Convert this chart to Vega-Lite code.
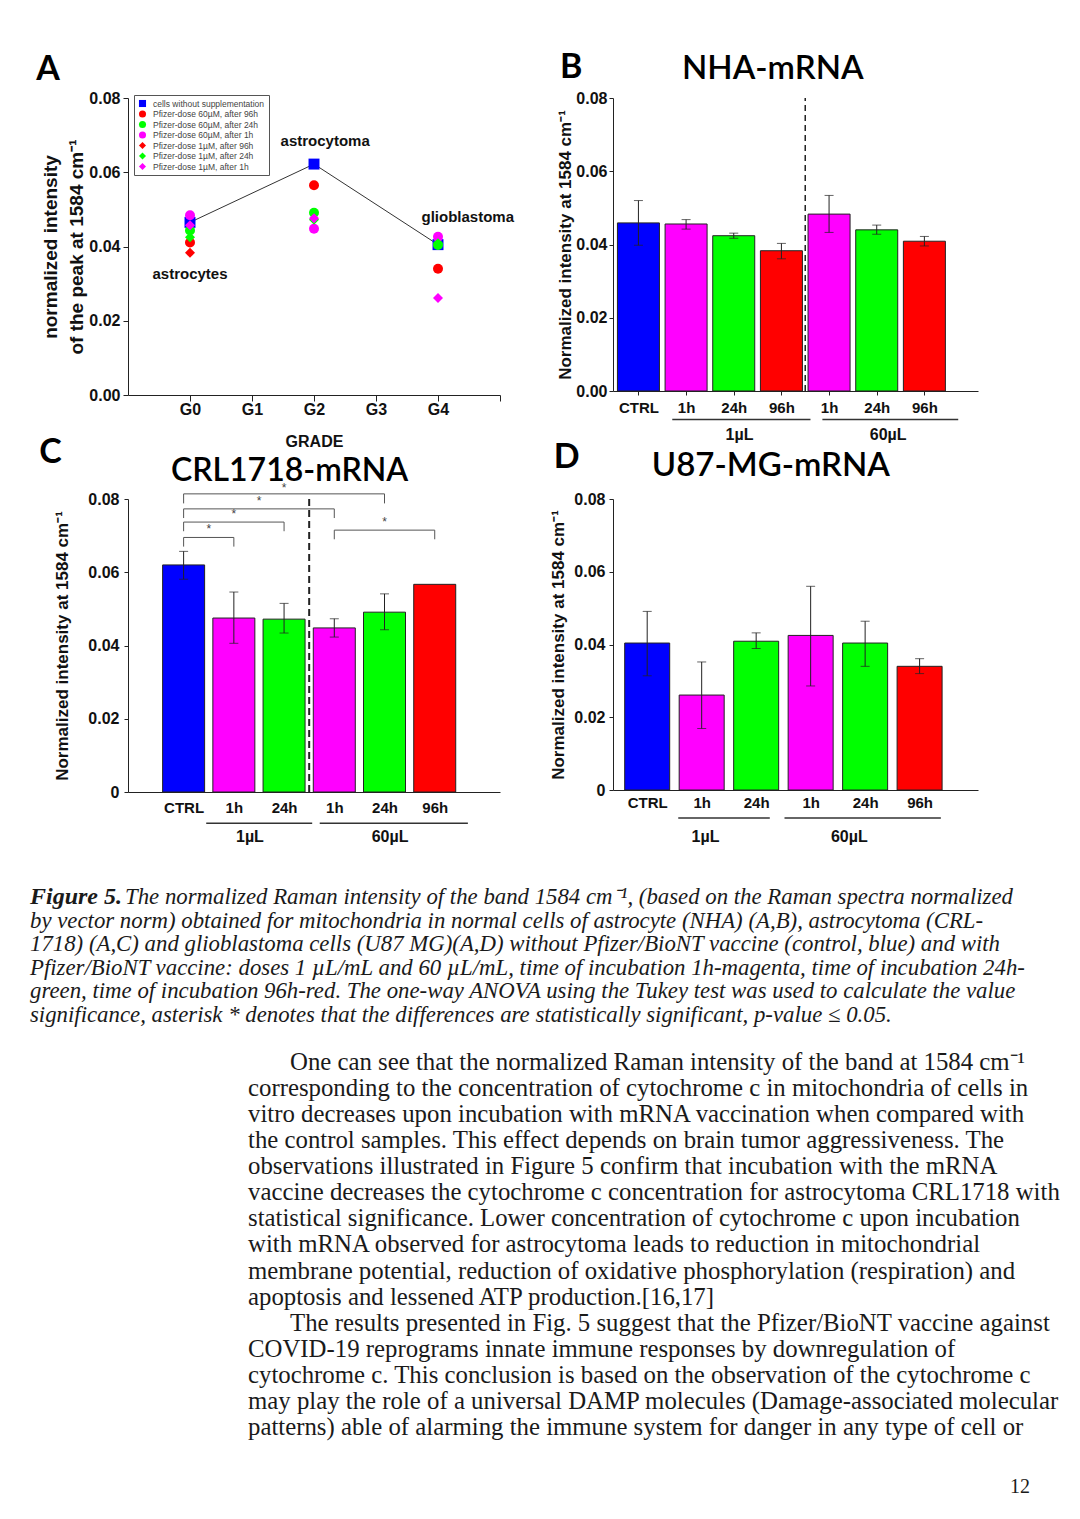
{
  "$schema": "https://vega.github.io/schema/vega-lite/v6.json",
  "background": "white",
  "padding": {"left": 30, "top": 50, "right": 0, "bottom": 0},
  "config": {
    "view": {"stroke": null},
    "font": "Liberation Sans",
    "axis": {"grid": false, "labelFont": "Liberation Sans", "labelFontWeight": "bold", "titleFont": "Liberation Sans", "titleFontWeight": "bold", "labelColor": "#111", "titleColor": "#111", "domainColor": "#222", "tickColor": "#222", "domainWidth": 1, "tickWidth": 1}
  },
  "datasets": {
    "pointsA": [
      {"series": "cells without supplementation", "grade": 0, "v": 0.0465},
      {"series": "cells without supplementation", "grade": 2, "v": 0.0622},
      {"series": "cells without supplementation", "grade": 4, "v": 0.0405},
      {"series": "Pfizer-dose 60µM, after 96h", "grade": 0, "v": 0.0411},
      {"series": "Pfizer-dose 60µM, after 96h", "grade": 2, "v": 0.0565},
      {"series": "Pfizer-dose 60µM, after 96h", "grade": 4, "v": 0.0340},
      {"series": "Pfizer-dose 60µM, after 24h", "grade": 0, "v": 0.0443},
      {"series": "Pfizer-dose 60µM, after 24h", "grade": 2, "v": 0.0491},
      {"series": "Pfizer-dose 60µM, after 24h", "grade": 4, "v": 0.0404},
      {"series": "Pfizer-dose 60µM, after 1h", "grade": 0, "v": 0.0484},
      {"series": "Pfizer-dose 60µM, after 1h", "grade": 2, "v": 0.0448},
      {"series": "Pfizer-dose 60µM, after 1h", "grade": 4, "v": 0.0426},
      {"series": "Pfizer-dose 1µM, after 96h", "grade": 0, "v": 0.0383},
      {"series": "Pfizer-dose 1µM, after 24h", "grade": 0, "v": 0.0425},
      {"series": "Pfizer-dose 1µM, after 24h", "grade": 2, "v": 0.0472},
      {"series": "Pfizer-dose 1µM, after 24h", "grade": 4, "v": 0.0409},
      {"series": "Pfizer-dose 1µM, after 1h", "grade": 0, "v": 0.0457},
      {"series": "Pfizer-dose 1µM, after 1h", "grade": 2, "v": 0.0476},
      {"series": "Pfizer-dose 1µM, after 1h", "grade": 4, "v": 0.0261}
    ],
    "annA": [
      {"text": "astrocytes", "grade": 0, "v": 0.0326},
      {"text": "astrocytoma", "grade": 2.18, "v": 0.0684},
      {"text": "glioblastoma", "grade": 4.48, "v": 0.048}
    ],
    "bars": [
      {"panel": "B", "pos": 0, "time": "ctrl", "v": 0.0459, "lo": 0.0398, "hi": 0.0520},
      {"panel": "B", "pos": 1, "time": "1h", "v": 0.0456, "lo": 0.0442, "hi": 0.0468},
      {"panel": "B", "pos": 2, "time": "24h", "v": 0.0424, "lo": 0.0417, "hi": 0.0431},
      {"panel": "B", "pos": 3, "time": "96h", "v": 0.0383, "lo": 0.0361, "hi": 0.0403},
      {"panel": "B", "pos": 4, "time": "1h", "v": 0.0483, "lo": 0.0433, "hi": 0.0534},
      {"panel": "B", "pos": 5, "time": "24h", "v": 0.0440, "lo": 0.0428, "hi": 0.0453},
      {"panel": "B", "pos": 6, "time": "96h", "v": 0.0409, "lo": 0.0396, "hi": 0.0422},
      {"panel": "C", "pos": 0, "time": "ctrl", "v": 0.0620, "lo": 0.0581, "hi": 0.0657},
      {"panel": "C", "pos": 1, "time": "1h", "v": 0.0475, "lo": 0.0406, "hi": 0.0546},
      {"panel": "C", "pos": 2, "time": "24h", "v": 0.0472, "lo": 0.0434, "hi": 0.0515},
      {"panel": "C", "pos": 3, "time": "1h", "v": 0.0448, "lo": 0.0423, "hi": 0.0473},
      {"panel": "C", "pos": 4, "time": "24h", "v": 0.0491, "lo": 0.0443, "hi": 0.0541},
      {"panel": "C", "pos": 5, "time": "96h", "v": 0.0567, "lo": null, "hi": null},
      {"panel": "D", "pos": 0, "time": "ctrl", "v": 0.0404, "lo": 0.0314, "hi": 0.0491},
      {"panel": "D", "pos": 1, "time": "1h", "v": 0.0261, "lo": 0.0169, "hi": 0.0352},
      {"panel": "D", "pos": 2, "time": "24h", "v": 0.0409, "lo": 0.0389, "hi": 0.0432},
      {"panel": "D", "pos": 3, "time": "1h", "v": 0.0425, "lo": 0.0286, "hi": 0.0560},
      {"panel": "D", "pos": 4, "time": "24h", "v": 0.0404, "lo": 0.0340, "hi": 0.0464},
      {"panel": "D", "pos": 5, "time": "96h", "v": 0.0340, "lo": 0.0320, "hi": 0.0361}
    ],
    "groups": [
      {"panel": "B", "from": 0.71, "to": 3.61, "mid": 2.12, "label": "1µL"},
      {"panel": "B", "from": 3.86, "to": 6.71, "mid": 5.24, "label": "60µL"},
      {"panel": "C", "from": 0.45, "to": 2.56, "mid": 1.32, "label": "1µL"},
      {"panel": "C", "from": 2.71, "to": 5.66, "mid": 4.11, "label": "60µL"},
      {"panel": "D", "from": 0.57, "to": 2.25, "mid": 1.07, "label": "1µL"},
      {"panel": "D", "from": 2.52, "to": 5.39, "mid": 3.71, "label": "60µL"}
    ],
    "brackets": [
      {"a": 0, "b": 4, "mid": 2, "y": 0.0814, "ylow": 0.0788, "sy": 0.0831},
      {"a": 0, "b": 3, "mid": 1.5, "y": 0.0773, "ylow": 0.0748, "sy": 0.0795},
      {"a": 0, "b": 2, "mid": 1, "y": 0.0737, "ylow": 0.0712, "sy": 0.0760},
      {"a": 0, "b": 1, "mid": 0.5, "y": 0.0695, "ylow": 0.0670, "sy": 0.0719},
      {"a": 3, "b": 5, "mid": 4, "y": 0.0715, "ylow": 0.0690, "sy": 0.0737}
    ],
    "caption": [
      {"line": 2, "text": "by vector norm) obtained for mitochondria in normal cells of astrocyte (NHA) (A,B), astrocytoma (CRL-"},
      {"line": 3, "text": "1718) (A,C) and glioblastoma cells (U87 MG)(A,D) without Pfizer/BioNT vaccine (control, blue) and with"},
      {"line": 4, "text": "Pfizer/BioNT vaccine: doses 1 µL/mL and 60 µL/mL, time of incubation 1h-magenta, time of incubation 24h-"},
      {"line": 5, "text": "green, time of incubation 96h-red. The one-way ANOVA using the Tukey test was used to calculate the value"},
      {"line": 6, "text": "significance, asterisk * denotes that the differences are statistically significant, p-value ≤ 0.05."}
    ],
    "body": [
      {"line": 1, "para": true, "text": "One can see that the normalized Raman intensity of the band at 1584 cm⁻¹"},
      {"line": 2, "para": false, "text": "corresponding to the concentration of cytochrome c in mitochondria of cells in"},
      {"line": 3, "para": false, "text": "vitro decreases upon incubation with mRNA vaccination when compared with"},
      {"line": 4, "para": false, "text": "the control samples.  This effect depends on brain tumor aggressiveness. The"},
      {"line": 5, "para": false, "text": "observations illustrated in Figure 5 confirm that incubation with the mRNA"},
      {"line": 6, "para": false, "text": "vaccine decreases the cytochrome c concentration for astrocytoma CRL1718 with"},
      {"line": 7, "para": false, "text": "statistical significance. Lower concentration of cytochrome c upon incubation"},
      {"line": 8, "para": false, "text": "with mRNA observed for astrocytoma leads to reduction in mitochondrial"},
      {"line": 9, "para": false, "text": "membrane potential, reduction of oxidative phosphorylation (respiration) and"},
      {"line": 10, "para": false, "text": "apoptosis and lessened ATP production.[16,17]"},
      {"line": 11, "para": true, "text": "The results presented in Fig. 5 suggest that the Pfizer/BioNT vaccine against"},
      {"line": 12, "para": false, "text": "COVID-19 reprograms innate immune responses by downregulation of"},
      {"line": 13, "para": false, "text": "cytochrome c. This conclusion is based on the observation of the cytochrome c"},
      {"line": 14, "para": false, "text": "may play the role of a universal DAMP molecules (Damage-associated molecular"},
      {"line": 15, "para": false, "text": "patterns)  able of alarming the immune system for danger in any type of cell or"}
    ]
  },
  "columns": 2,
  "bounds": "flush",
  "spacing": {"row": 104, "column": 113},
  "resolve": {"scale": {"x": "independent", "y": "independent", "color": "independent", "shape": "independent", "size": "independent"}, "axis": {"x": "independent", "y": "independent"}, "legend": {"color": "independent", "shape": "independent", "size": "independent"}},
  "concat": [
    {
      "width": 372,
      "height": 297,
      "layer": [
        {
          "data": {"name": "pointsA"},
          "transform": [{"filter": "datum.series === 'cells without supplementation'"}],
          "mark": {"type": "line", "color": "#333", "strokeWidth": 1},
          "encoding": {
            "x": {"field": "grade", "type": "quantitative", "scale": {"domain": [-1, 5], "nice": false, "zero": false},
              "axis": {"values": [0, 1, 2, 3, 4, 5], "labelExpr": "datum.value < 5 ? 'G' + datum.value : ''", "title": "GRADE", "titleFontSize": 16, "titlePadding": 16, "labelFontSize": 16, "tickSize": 6, "labelPadding": 0}},
            "y": {"field": "v", "type": "quantitative", "scale": {"domain": [0, 0.08], "nice": false, "zero": false},
              "axis": {"values": [0, 0.01, 0.02, 0.03, 0.04, 0.05, 0.06, 0.07, 0.08], "labelExpr": "round(datum.value*100) % 2 == 0 ? format(datum.value, '.2f') : ''", "tickSize": 5, "title": ["normalized intensity", "of the peak at 1584 cm⁻¹"], "titleFontSize": 19, "titleLineHeight": 26, "labelFontSize": 16, "labelPadding": 3, "titlePadding": 2}}
          }
        },
        {
          "data": {"name": "pointsA"},
          "mark": {"type": "point", "filled": true, "opacity": 1},
          "encoding": {
            "x": {"field": "grade", "type": "quantitative", "scale": {"domain": [-1, 5], "nice": false, "zero": false}},
            "y": {"field": "v", "type": "quantitative", "scale": {"domain": [0, 0.08], "nice": false, "zero": false}},
            "color": {"field": "series", "type": "nominal",
              "scale": {"domain": ["cells without supplementation", "Pfizer-dose 60µM, after 96h", "Pfizer-dose 60µM, after 24h", "Pfizer-dose 60µM, after 1h", "Pfizer-dose 1µM, after 96h", "Pfizer-dose 1µM, after 24h", "Pfizer-dose 1µM, after 1h"], "range": ["#0000ff", "#ff0000", "#00ff00", "#ff00ff", "#ff0000", "#00ff00", "#ff00ff"]},
              "legend": {"orient": "none", "legendX": 6, "legendY": -3, "title": null, "labelFontSize": 8.5, "labelFont": "Liberation Sans", "labelColor": "#444", "symbolSize": 50, "rowPadding": 1.5, "padding": 4, "strokeColor": "#555", "fillColor": "white", "labelLimit": 200, "labelOffset": 6}},
            "shape": {"field": "series", "type": "nominal",
              "scale": {"domain": ["cells without supplementation", "Pfizer-dose 60µM, after 96h", "Pfizer-dose 60µM, after 24h", "Pfizer-dose 60µM, after 1h", "Pfizer-dose 1µM, after 96h", "Pfizer-dose 1µM, after 24h", "Pfizer-dose 1µM, after 1h"], "range": ["square", "circle", "circle", "circle", "diamond", "diamond", "diamond"]},
              "legend": {"orient": "none", "legendX": 6, "legendY": -3, "title": null, "labelFontSize": 8.5, "labelFont": "Liberation Sans", "labelColor": "#444", "symbolSize": 50, "rowPadding": 1.5, "padding": 4, "strokeColor": "#555", "fillColor": "white", "labelLimit": 200, "labelOffset": 6}},
            "size": {"condition": {"test": "datum.series === 'cells without supplementation'", "value": 120}, "value": 100}
          }
        },
        {
          "data": {"name": "annA"},
          "mark": {"type": "text", "font": "Liberation Sans", "fontWeight": "bold", "fontSize": 15, "align": "center", "baseline": "middle", "color": "#111"},
          "encoding": {
            "x": {"field": "grade", "type": "quantitative", "scale": {"domain": [-1, 5], "nice": false, "zero": false}},
            "y": {"field": "v", "type": "quantitative", "scale": {"domain": [0, 0.08], "nice": false, "zero": false}},
            "text": {"field": "text"}
          }
        },
        {
          "data": {"values": [{"letter": "A"}]},
          "mark": {"type": "text", "font": "Lato", "fontWeight": "bold", "fontSize": 34, "align": "center", "baseline": "alphabetic", "color": "#000"},
          "encoding": {
            "x": {"datum": -2.29, "type": "quantitative", "scale": {"domain": [-1, 5], "nice": false, "zero": false}},
            "y": {"datum": 0.0848, "type": "quantitative", "scale": {"domain": [0, 0.08], "nice": false, "zero": false}},
            "text": {"field": "letter"}
          }
        }
      ]
    },
    {
      "width": 365,
      "height": 293,
      "layer": [
        {
          "data": {"name": "bars"},
          "transform": [{"filter": "datum.panel === 'B'"}],
          "mark": {"type": "bar", "width": 42, "stroke": "#222", "strokeWidth": 1},
          "encoding": {
            "x": {"field": "pos", "type": "quantitative", "scale": {"domain": [-0.4286, 7.02], "nice": false, "zero": false},
              "axis": {"values": [0, 1, 2, 3, 4, 5, 6], "labelExpr": "['CTRL','1h','24h','96h','1h','24h','96h'][datum.value]", "title": null, "tickSize": 4, "labelFontSize": 15, "labelPadding": 5}},
            "y": {"field": "v", "type": "quantitative", "stack": null, "scale": {"domain": [0, 0.08], "nice": false, "zero": false},
              "axis": {"values": [0, 0.01, 0.02, 0.03, 0.04, 0.05, 0.06, 0.07, 0.08], "labelExpr": "round(datum.value*100) % 2 == 0 ? format(datum.value, '.2f') : ''", "tickSize": 4, "title": "Normalized intensity at 1584 cm⁻¹", "titleFontSize": 17, "labelFontSize": 16, "labelPadding": 2, "titlePadding": 1}},
            "color": {"field": "time", "type": "nominal", "scale": {"domain": ["ctrl", "1h", "24h", "96h"], "range": ["#0000ff", "#ff00ff", "#00ff00", "#ff0000"]}, "legend": null}
          }
        },
        {
          "data": {"name": "bars"},
          "transform": [{"filter": "datum.panel === 'B' && isValid(datum.lo)"}],
          "mark": {"type": "rule", "color": "#222", "strokeWidth": 1},
          "encoding": {
            "x": {"field": "pos", "type": "quantitative", "scale": {"domain": [-0.4286, 7.02], "nice": false, "zero": false}},
            "y": {"field": "lo", "type": "quantitative", "scale": {"domain": [0, 0.08], "nice": false, "zero": false}},
            "y2": {"field": "hi"}
          }
        },
        {
          "data": {"name": "bars"},
          "transform": [{"filter": "datum.panel === 'B' && isValid(datum.lo)"}, {"fold": ["lo", "hi"], "as": ["k", "e"]}],
          "mark": {"type": "tick", "orient": "horizontal", "size": 9, "thickness": 1, "color": "#222"},
          "encoding": {
            "x": {"field": "pos", "type": "quantitative", "scale": {"domain": [-0.4286, 7.02], "nice": false, "zero": false}},
            "y": {"field": "e", "type": "quantitative", "scale": {"domain": [0, 0.08], "nice": false, "zero": false}}
          }
        },
        {
          "data": {"values": [{}]},
          "mark": {"type": "rule", "color": "#222", "strokeWidth": 1.5, "strokeDash": [6, 4]},
          "encoding": {
            "x": {"datum": 3.5, "type": "quantitative", "scale": {"domain": [-0.4286, 7.02], "nice": false, "zero": false}},
            "y": {"datum": 0, "type": "quantitative", "scale": {"domain": [0, 0.08], "nice": false, "zero": false}},
            "y2": {"datum": 0.08}
          }
        },
        {
          "data": {"name": "groups"},
          "transform": [{"filter": "datum.panel === 'B'"}],
          "mark": {"type": "rule", "color": "#333", "strokeWidth": 1.5},
          "encoding": {
            "x": {"field": "from", "type": "quantitative", "scale": {"domain": [-0.4286, 7.02], "nice": false, "zero": false}},
            "x2": {"field": "to"},
            "y": {"datum": -0.0078, "type": "quantitative", "scale": {"domain": [0, 0.08], "nice": false, "zero": false}}
          }
        },
        {
          "data": {"name": "groups"},
          "transform": [{"filter": "datum.panel === 'B'"}],
          "mark": {"type": "text", "font": "Liberation Sans", "fontWeight": "bold", "fontSize": 16, "align": "center", "baseline": "middle", "color": "#111"},
          "encoding": {
            "x": {"field": "mid", "type": "quantitative", "scale": {"domain": [-0.4286, 7.02], "nice": false, "zero": false}},
            "y": {"datum": -0.0121, "type": "quantitative", "scale": {"domain": [0, 0.08], "nice": false, "zero": false}},
            "text": {"field": "label"}
          }
        },
        {
          "data": {"values": [{"letter": "B", "title": "NHA-mRNA"}]},
          "layer": [
            {
              "mark": {"type": "text", "font": "Lato", "fontWeight": "bold", "fontSize": 34, "align": "center", "baseline": "alphabetic", "color": "#000"},
              "encoding": {
                "x": {"datum": -1.41, "type": "quantitative", "scale": {"domain": [-0.4286, 7.02], "nice": false, "zero": false}},
                "y": {"datum": 0.0855, "type": "quantitative", "scale": {"domain": [0, 0.08], "nice": false, "zero": false}},
                "text": {"field": "letter"}
              }
            },
            {
              "mark": {"type": "text", "font": "Lato", "fontWeight": 600, "fontSize": 33, "align": "center", "baseline": "alphabetic", "color": "#000"},
              "encoding": {
                "x": {"datum": 2.82, "type": "quantitative", "scale": {"domain": [-0.4286, 7.02], "nice": false, "zero": false}},
                "y": {"datum": 0.0852, "type": "quantitative", "scale": {"domain": [0, 0.08], "nice": false, "zero": false}},
                "text": {"field": "title"}
              }
            }
          ]
        }
      ]
    },
    {
      "width": 372,
      "height": 293,
      "layer": [
        {
          "data": {"name": "bars"},
          "transform": [{"filter": "datum.panel === 'C'"}],
          "mark": {"type": "bar", "width": 42, "stroke": "#222", "strokeWidth": 1},
          "encoding": {
            "x": {"field": "pos", "type": "quantitative", "scale": {"domain": [-1.008, 6.2], "nice": false, "zero": false},
              "axis": {"values": [0, 1, 2, 3, 4, 5], "labelExpr": "['CTRL','1h','24h','1h','24h','96h'][datum.value]", "title": null, "ticks": false, "labelFontSize": 15, "labelPadding": 8}},
            "y": {"field": "v", "type": "quantitative", "stack": null, "scale": {"domain": [0, 0.08], "nice": false, "zero": false},
              "axis": {"values": [0, 0.01, 0.02, 0.03, 0.04, 0.05, 0.06, 0.07, 0.08], "labelExpr": "round(datum.value*100) % 2 == 0 ? (datum.value == 0 ? '0' : format(datum.value, '.2f')) : ''", "tickSize": 4, "title": "Normalized intensity at 1584 cm⁻¹", "titleFontSize": 17, "labelFontSize": 16, "labelPadding": 5, "titlePadding": 16}},
            "color": {"field": "time", "type": "nominal", "scale": {"domain": ["ctrl", "1h", "24h", "96h"], "range": ["#0000ff", "#ff00ff", "#00ff00", "#ff0000"]}, "legend": null}
          }
        },
        {
          "data": {"name": "bars"},
          "transform": [{"filter": "datum.panel === 'C' && isValid(datum.lo)"}],
          "mark": {"type": "rule", "color": "#222", "strokeWidth": 1},
          "encoding": {
            "x": {"field": "pos", "type": "quantitative", "scale": {"domain": [-1.008, 6.2], "nice": false, "zero": false}},
            "y": {"field": "lo", "type": "quantitative", "scale": {"domain": [0, 0.08], "nice": false, "zero": false}},
            "y2": {"field": "hi"}
          }
        },
        {
          "data": {"name": "bars"},
          "transform": [{"filter": "datum.panel === 'C' && isValid(datum.lo)"}, {"fold": ["lo", "hi"], "as": ["k", "e"]}],
          "mark": {"type": "tick", "orient": "horizontal", "size": 9, "thickness": 1, "color": "#222"},
          "encoding": {
            "x": {"field": "pos", "type": "quantitative", "scale": {"domain": [-1.008, 6.2], "nice": false, "zero": false}},
            "y": {"field": "e", "type": "quantitative", "scale": {"domain": [0, 0.08], "nice": false, "zero": false}}
          }
        },
        {
          "data": {"values": [{}]},
          "mark": {"type": "rule", "color": "#222", "strokeWidth": 2, "strokeDash": [7, 4]},
          "encoding": {
            "x": {"datum": 2.5, "type": "quantitative", "scale": {"domain": [-1.008, 6.2], "nice": false, "zero": false}},
            "y": {"datum": 0, "type": "quantitative", "scale": {"domain": [0, 0.08], "nice": false, "zero": false}},
            "y2": {"datum": 0.0811}
          }
        },
        {
          "data": {"name": "brackets"},
          "mark": {"type": "rule", "color": "#555", "strokeWidth": 1},
          "encoding": {
            "x": {"field": "a", "type": "quantitative", "scale": {"domain": [-1.008, 6.2], "nice": false, "zero": false}},
            "x2": {"field": "b"},
            "y": {"field": "y", "type": "quantitative", "scale": {"domain": [0, 0.08], "nice": false, "zero": false}}
          }
        },
        {
          "data": {"name": "brackets"},
          "mark": {"type": "rule", "color": "#555", "strokeWidth": 1},
          "encoding": {
            "x": {"field": "a", "type": "quantitative", "scale": {"domain": [-1.008, 6.2], "nice": false, "zero": false}},
            "y": {"field": "y", "type": "quantitative", "scale": {"domain": [0, 0.08], "nice": false, "zero": false}},
            "y2": {"field": "ylow"}
          }
        },
        {
          "data": {"name": "brackets"},
          "mark": {"type": "rule", "color": "#555", "strokeWidth": 1},
          "encoding": {
            "x": {"field": "b", "type": "quantitative", "scale": {"domain": [-1.008, 6.2], "nice": false, "zero": false}},
            "y": {"field": "y", "type": "quantitative", "scale": {"domain": [0, 0.08], "nice": false, "zero": false}},
            "y2": {"field": "ylow"}
          }
        },
        {
          "data": {"name": "brackets"},
          "mark": {"type": "text", "font": "Liberation Sans", "fontSize": 12, "align": "center", "baseline": "middle", "color": "#444"},
          "encoding": {
            "x": {"field": "mid", "type": "quantitative", "scale": {"domain": [-1.008, 6.2], "nice": false, "zero": false}},
            "y": {"field": "sy", "type": "quantitative", "scale": {"domain": [0, 0.08], "nice": false, "zero": false}},
            "text": {"value": "*"}
          }
        },
        {
          "data": {"name": "groups"},
          "transform": [{"filter": "datum.panel === 'C'"}],
          "mark": {"type": "rule", "color": "#333", "strokeWidth": 1.5},
          "encoding": {
            "x": {"field": "from", "type": "quantitative", "scale": {"domain": [-1.008, 6.2], "nice": false, "zero": false}},
            "x2": {"field": "to"},
            "y": {"datum": -0.00855, "type": "quantitative", "scale": {"domain": [0, 0.08], "nice": false, "zero": false}}
          }
        },
        {
          "data": {"name": "groups"},
          "transform": [{"filter": "datum.panel === 'C'"}],
          "mark": {"type": "text", "font": "Liberation Sans", "fontWeight": "bold", "fontSize": 16, "align": "center", "baseline": "middle", "color": "#111"},
          "encoding": {
            "x": {"field": "mid", "type": "quantitative", "scale": {"domain": [-1.008, 6.2], "nice": false, "zero": false}},
            "y": {"datum": -0.0124, "type": "quantitative", "scale": {"domain": [0, 0.08], "nice": false, "zero": false}},
            "text": {"field": "label"}
          }
        },
        {
          "data": {"values": [{"letter": "C", "title": "CRL1718-mRNA"}]},
          "layer": [
            {
              "mark": {"type": "text", "font": "Lato", "fontWeight": "bold", "fontSize": 34, "align": "center", "baseline": "alphabetic", "color": "#000"},
              "encoding": {
                "x": {"datum": -2.65, "type": "quantitative", "scale": {"domain": [-1.008, 6.2], "nice": false, "zero": false}},
                "y": {"datum": 0.0897, "type": "quantitative", "scale": {"domain": [0, 0.08], "nice": false, "zero": false}},
                "text": {"field": "letter"}
              }
            },
            {
              "mark": {"type": "text", "font": "Lato", "fontWeight": 600, "fontSize": 32, "align": "center", "baseline": "alphabetic", "color": "#000"},
              "encoding": {
                "x": {"datum": 2.11, "type": "quantitative", "scale": {"domain": [-1.008, 6.2], "nice": false, "zero": false}},
                "y": {"datum": 0.0849, "type": "quantitative", "scale": {"domain": [0, 0.08], "nice": false, "zero": false}},
                "text": {"field": "title"}
              }
            }
          ]
        }
      ]
    },
    {
      "width": 365,
      "height": 291,
      "layer": [
        {
          "data": {"name": "bars"},
          "transform": [{"filter": "datum.panel === 'D'"}],
          "mark": {"type": "bar", "width": 45, "stroke": "#222", "strokeWidth": 1},
          "encoding": {
            "x": {"field": "pos", "type": "quantitative", "scale": {"domain": [-0.536, 5.98], "nice": false, "zero": false},
              "axis": {"values": [0, 1, 2, 3, 4, 5], "labelExpr": "['CTRL','1h','24h','1h','24h','96h'][datum.value]", "title": null, "ticks": false, "labelFontSize": 15, "labelPadding": 5}},
            "y": {"field": "v", "type": "quantitative", "stack": null, "scale": {"domain": [0, 0.08], "nice": false, "zero": false},
              "axis": {"values": [0, 0.01, 0.02, 0.03, 0.04, 0.05, 0.06, 0.07, 0.08], "labelExpr": "round(datum.value*100) % 2 == 0 ? (datum.value == 0 ? '0' : format(datum.value, '.2f')) : ''", "tickSize": 4, "title": "Normalized intensity at 1584 cm⁻¹", "titleFontSize": 17, "labelFontSize": 16, "labelPadding": 4, "titlePadding": 6}},
            "color": {"field": "time", "type": "nominal", "scale": {"domain": ["ctrl", "1h", "24h", "96h"], "range": ["#0000ff", "#ff00ff", "#00ff00", "#ff0000"]}, "legend": null}
          }
        },
        {
          "data": {"name": "bars"},
          "transform": [{"filter": "datum.panel === 'D' && isValid(datum.lo)"}],
          "mark": {"type": "rule", "color": "#222", "strokeWidth": 1},
          "encoding": {
            "x": {"field": "pos", "type": "quantitative", "scale": {"domain": [-0.536, 5.98], "nice": false, "zero": false}},
            "y": {"field": "lo", "type": "quantitative", "scale": {"domain": [0, 0.08], "nice": false, "zero": false}},
            "y2": {"field": "hi"}
          }
        },
        {
          "data": {"name": "bars"},
          "transform": [{"filter": "datum.panel === 'D' && isValid(datum.lo)"}, {"fold": ["lo", "hi"], "as": ["k", "e"]}],
          "mark": {"type": "tick", "orient": "horizontal", "size": 9, "thickness": 1, "color": "#222"},
          "encoding": {
            "x": {"field": "pos", "type": "quantitative", "scale": {"domain": [-0.536, 5.98], "nice": false, "zero": false}},
            "y": {"field": "e", "type": "quantitative", "scale": {"domain": [0, 0.08], "nice": false, "zero": false}}
          }
        },
        {
          "data": {"name": "groups"},
          "transform": [{"filter": "datum.panel === 'D'"}],
          "mark": {"type": "rule", "color": "#333", "strokeWidth": 1.5},
          "encoding": {
            "x": {"field": "from", "type": "quantitative", "scale": {"domain": [-0.536, 5.98], "nice": false, "zero": false}},
            "x2": {"field": "to"},
            "y": {"datum": -0.0077, "type": "quantitative", "scale": {"domain": [0, 0.08], "nice": false, "zero": false}}
          }
        },
        {
          "data": {"name": "groups"},
          "transform": [{"filter": "datum.panel === 'D'"}],
          "mark": {"type": "text", "font": "Liberation Sans", "fontWeight": "bold", "fontSize": 16, "align": "center", "baseline": "middle", "color": "#111"},
          "encoding": {
            "x": {"field": "mid", "type": "quantitative", "scale": {"domain": [-0.536, 5.98], "nice": false, "zero": false}},
            "y": {"datum": -0.0129, "type": "quantitative", "scale": {"domain": [0, 0.08], "nice": false, "zero": false}},
            "text": {"field": "label"}
          }
        },
        {
          "data": {"values": [{"letter": "D", "title": "U87-MG-mRNA"}]},
          "layer": [
            {
              "mark": {"type": "text", "font": "Lato", "fontWeight": "bold", "fontSize": 34, "align": "center", "baseline": "alphabetic", "color": "#000"},
              "encoding": {
                "x": {"datum": -1.48, "type": "quantitative", "scale": {"domain": [-0.536, 5.98], "nice": false, "zero": false}},
                "y": {"datum": 0.0885, "type": "quantitative", "scale": {"domain": [0, 0.08], "nice": false, "zero": false}},
                "text": {"field": "letter"}
              }
            },
            {
              "mark": {"type": "text", "font": "Lato", "fontWeight": 600, "fontSize": 33, "align": "center", "baseline": "alphabetic", "color": "#000"},
              "encoding": {
                "x": {"datum": 2.27, "type": "quantitative", "scale": {"domain": [-0.536, 5.98], "nice": false, "zero": false}},
                "y": {"datum": 0.0862, "type": "quantitative", "scale": {"domain": [0, 0.08], "nice": false, "zero": false}},
                "text": {"field": "title"}
              }
            }
          ]
        }
      ]
    },
    {
      "width": 372,
      "height": 620,
      "resolve": {"scale": {"y": "independent"}},
      "layer": [
        {
          "data": {"values": [{"line": 1, "text": "Figure 5."}]},
          "mark": {"type": "text", "font": "Liberation Serif", "fontStyle": "italic", "fontWeight": "bold", "fontSize": 24, "align": "left", "baseline": "middle", "color": "#1a1a1a"},
          "encoding": {
            "x": {"datum": -98, "type": "quantitative", "scale": {"domain": [0, 372], "nice": false, "zero": false}, "axis": null},
            "y": {"field": "line", "type": "quantitative", "scale": {"domain": [0.9576, 27.23], "range": [0, 620], "nice": false, "zero": false}, "axis": null},
            "text": {"field": "text"}
          }
        },
        {
          "data": {"values": [{"line": 1, "text": "The normalized Raman intensity of the band 1584 cm⁻¹, (based on the Raman spectra normalized"}]},
          "mark": {"type": "text", "font": "Liberation Serif", "fontStyle": "italic", "fontSize": 22.8, "align": "left", "baseline": "middle", "color": "#1a1a1a"},
          "encoding": {
            "x": {"datum": -3, "type": "quantitative", "scale": {"domain": [0, 372], "nice": false, "zero": false}, "axis": null},
            "y": {"field": "line", "type": "quantitative", "scale": {"domain": [0.9576, 27.23], "range": [0, 620], "nice": false, "zero": false}, "axis": null},
            "text": {"field": "text"}
          }
        },
        {
          "data": {"name": "caption"},
          "mark": {"type": "text", "font": "Liberation Serif", "fontStyle": "italic", "fontSize": 22.8, "align": "left", "baseline": "middle", "color": "#1a1a1a"},
          "encoding": {
            "x": {"datum": -98, "type": "quantitative", "scale": {"domain": [0, 372], "nice": false, "zero": false}, "axis": null},
            "y": {"field": "line", "type": "quantitative", "scale": {"domain": [0.9576, 27.23], "range": [0, 620], "nice": false, "zero": false}, "axis": null},
            "text": {"field": "text"}
          }
        },
        {
          "data": {"name": "body"},
          "transform": [{"filter": "!datum.para"}],
          "mark": {"type": "text", "font": "Liberation Serif", "fontSize": 24.8, "align": "left", "baseline": "middle", "color": "#1a1a1a"},
          "encoding": {
            "x": {"datum": 120, "type": "quantitative", "scale": {"domain": [0, 372], "nice": false, "zero": false}, "axis": null},
            "y": {"field": "line", "type": "quantitative", "scale": {"domain": [-5.406, 18.376], "range": [0, 620], "nice": false, "zero": false}, "axis": null},
            "text": {"field": "text"}
          }
        },
        {
          "data": {"name": "body"},
          "transform": [{"filter": "datum.para"}],
          "mark": {"type": "text", "font": "Liberation Serif", "fontSize": 24.8, "align": "left", "baseline": "middle", "color": "#1a1a1a"},
          "encoding": {
            "x": {"datum": 162, "type": "quantitative", "scale": {"domain": [0, 372], "nice": false, "zero": false}, "axis": null},
            "y": {"field": "line", "type": "quantitative", "scale": {"domain": [-5.406, 18.376], "range": [0, 620], "nice": false, "zero": false}, "axis": null},
            "text": {"field": "text"}
          }
        },
        {
          "data": {"values": [{"page": "12"}]},
          "mark": {"type": "text", "font": "Liberation Serif", "fontSize": 20, "align": "right", "baseline": "middle", "color": "#1a1a1a"},
          "encoding": {
            "x": {"datum": 902, "type": "quantitative", "scale": {"domain": [0, 372], "nice": false, "zero": false}, "axis": null},
            "y": {"datum": 17.26, "type": "quantitative", "scale": {"domain": [-5.406, 18.376], "range": [0, 620], "nice": false, "zero": false}, "axis": null},
            "text": {"field": "page"}
          }
        }
      ]
    }
  ]
}
